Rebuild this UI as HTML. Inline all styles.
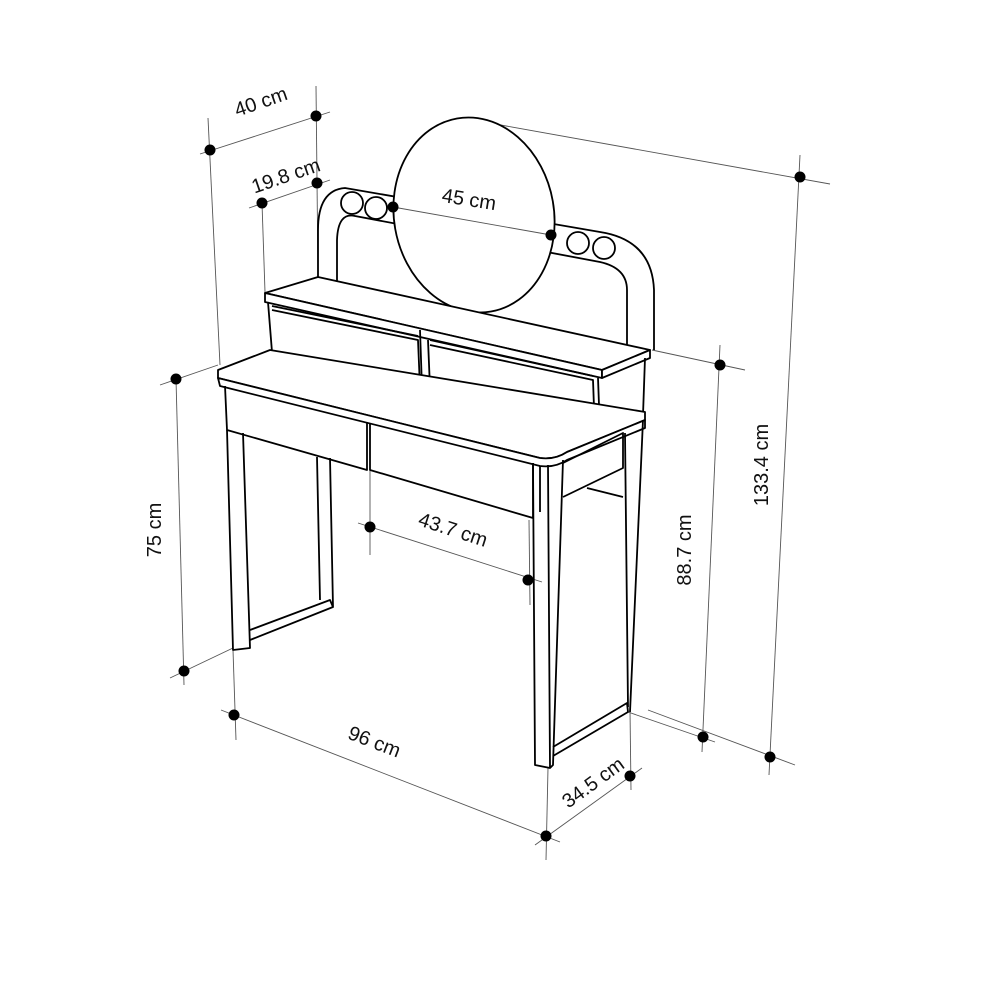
<!DOCTYPE html>
<html><head><meta charset="utf-8"><style>
html,body{margin:0;padding:0;background:#fff;}
svg{display:block}
text{font-family:"Liberation Sans",sans-serif;font-size:20px;fill:#111;}
</style></head><body>
<svg width="1000" height="1000" viewBox="0 0 1000 1000" xmlns="http://www.w3.org/2000/svg">
<rect width="1000" height="1000" fill="#fff"/>
<g stroke="#555" stroke-width="0.9" fill="none">
<line x1="208" y1="118" x2="220" y2="365"/>
<line x1="316" y1="86" x2="318" y2="275"/>
<line x1="200" y1="154" x2="330" y2="112"/>
<line x1="249" y1="208" x2="330" y2="180"/>
<line x1="262" y1="203" x2="265" y2="292"/>
<line x1="495" y1="124" x2="830" y2="184"/>
<line x1="800" y1="155" x2="769" y2="775"/>
<line x1="652" y1="350" x2="745" y2="370"/>
<line x1="720" y1="345" x2="702" y2="752"/>
<line x1="628" y1="712" x2="715" y2="742"/>
<line x1="648" y1="710" x2="795" y2="765"/>
<line x1="160" y1="385" x2="218" y2="365"/>
<line x1="176" y1="379" x2="184" y2="685"/>
<line x1="170" y1="678" x2="233" y2="648"/>
<line x1="370" y1="470" x2="370" y2="555"/>
<line x1="358" y1="523" x2="542" y2="582"/>
<line x1="529" y1="520" x2="530" y2="605"/>
<line x1="233" y1="650" x2="236" y2="740"/>
<line x1="221" y1="710" x2="560" y2="842"/>
<line x1="548" y1="768" x2="546" y2="860"/>
<line x1="630" y1="710" x2="631" y2="790"/>
<line x1="535" y1="845" x2="642" y2="768"/>
</g>
<g fill="#000">
<circle cx="210" cy="150" r="5.5"/><circle cx="316" cy="116" r="5.5"/>
<circle cx="262" cy="203" r="5.5"/><circle cx="317" cy="183" r="5.5"/>
<circle cx="800" cy="177" r="5.5"/><circle cx="770" cy="757" r="5.5"/>
<circle cx="720" cy="365" r="5.5"/><circle cx="703" cy="737" r="5.5"/>
<circle cx="176" cy="379" r="5.5"/><circle cx="184" cy="671" r="5.5"/>
<circle cx="370" cy="527" r="5.5"/><circle cx="528" cy="580" r="5.5"/>
<circle cx="234" cy="715" r="5.5"/><circle cx="546" cy="836" r="5.5"/>
<circle cx="630" cy="776" r="5.5"/>
</g>
<text transform="translate(263,108) rotate(-19)" text-anchor="middle">40 cm</text>
<text transform="translate(288,182) rotate(-19)" text-anchor="middle">19.8 cm</text>
<text transform="translate(768,465) rotate(-90)" text-anchor="middle">133.4 cm</text>
<text transform="translate(691,550) rotate(-90)" text-anchor="middle">88.7 cm</text>
<text transform="translate(161,530) rotate(-90)" text-anchor="middle">75 cm</text>
<text transform="translate(451,536) rotate(18)" text-anchor="middle">43.7 cm</text>
<text transform="translate(372,748) rotate(21)" text-anchor="middle">96 cm</text>
<text transform="translate(597,788) rotate(-36)" text-anchor="middle">34.5 cm</text>
<g stroke="#000" stroke-width="1.8" fill="#fff" stroke-linejoin="round">
<path d="M318,285 L318,230 Q318,190 345,188 L600,232 Q652,240 654,290 L654,350" fill="none"/>
<path d="M337,285 L337,240 Q338,212 355,216 L600,262 Q627,268 627,290 L627,345" fill="none"/>
<circle cx="352" cy="203" r="11"/><circle cx="376" cy="208" r="11"/>
<circle cx="578" cy="243" r="11"/><circle cx="604" cy="248" r="11"/>
<ellipse cx="474" cy="215" rx="80" ry="98" transform="rotate(-10 474 215)"/>
<path d="M265,293 L318,277 L650,350 L602,370 Z"/>
<path d="M265,293 L602,370 L602,378 L265,302 Z"/>
<path d="M602,370 L650,350 L650,358 L602,378 Z"/>
<path d="M268,302 L272,352 M272,310 L418,340 L420,388 M272,306 L418,336 M420,330 L422,388 M428,340 L430,388 M430,345 L593,380 L595,435 M430,340 L593,376 M598,378 L600,432 M645,358 L643,415" fill="none"/>
<path d="M218,370 L270,350 L645,412 L645,420 L567,452 Q555,460 540,458 L218,378 Z"/>
<path d="M218,378 L540,458 Q555,460 567,452 L645,420 L645,428 L567,460 Q555,468 540,466 L220,386 Z"/>
<path d="M225,386 L227,430 L367,470 L367,422" fill="none"/>
<path d="M370,423 L370,470 L533,518 L533,463" fill="none"/>
<path d="M227,430 L233,650 L250,648 L243,433" fill="none"/>
<path d="M250,630 L330,600 L333,607 L250,640 M317,457 L320,600 M330,458 L333,607" fill="none"/>
<path d="M533,463 L535,765 L550,768 L548,465" fill="none"/>
<path d="M550,768 L553,765 L563,460" fill="none"/>
<path d="M540,466 L540,512" fill="none"/>
<path d="M563,463 L623,433 L623,468 L563,497 M587,488 L623,497 M625,433 L628,707 M643,420 L630,712 M553,747 L627,703 L628,712 L553,756" fill="none"/>
</g>
<line x1="393" y1="207" x2="551" y2="235" stroke="#555" stroke-width="0.9"/>
<circle cx="393" cy="207" r="5.5"/><circle cx="551" cy="235" r="5.5"/>
<text transform="translate(468,206) rotate(9)" text-anchor="middle">45 cm</text>
</svg>
</body></html>
